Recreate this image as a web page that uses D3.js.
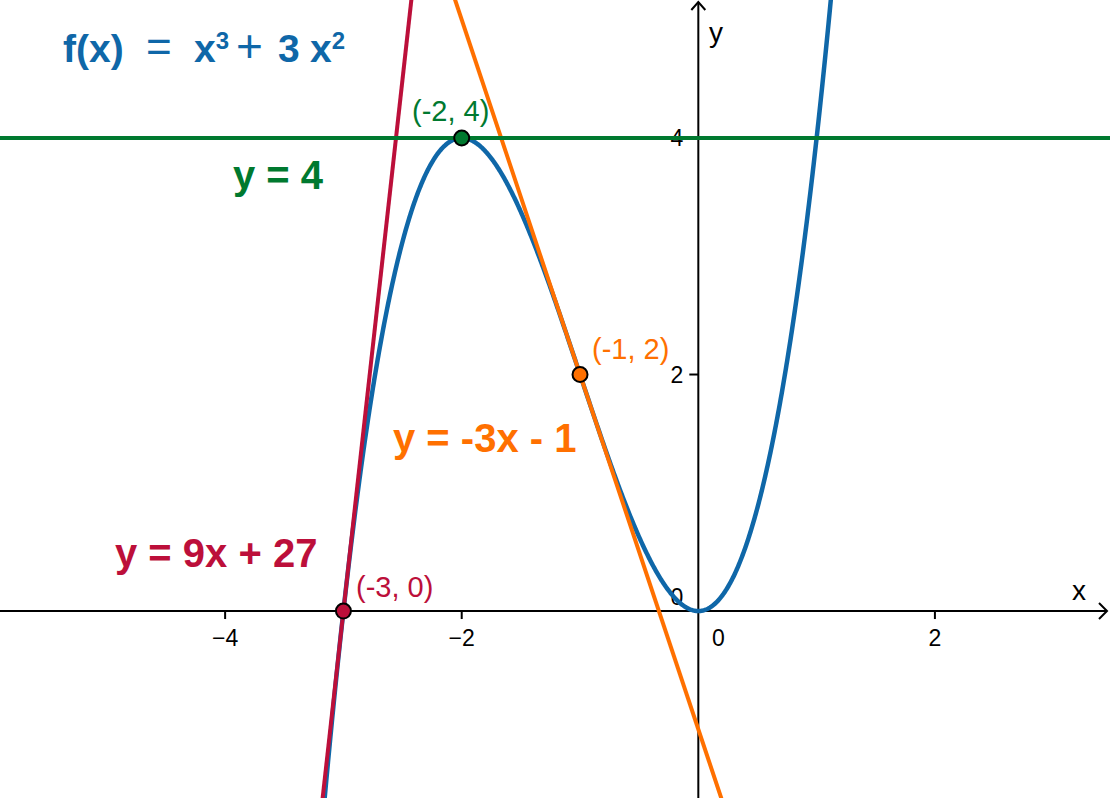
<!DOCTYPE html>
<html><head><meta charset="utf-8">
<script src="https://cdn.jsdelivr.net/npm/d3@7/dist/d3.min.js"></script>
<style>html,body{margin:0;padding:0;background:#fff;}svg{display:block;font-family:"Liberation Sans",Arial,sans-serif;}</style>
</head><body>
<script>
// ---- data ----
const xDomain = [-5.903, 3.480];
const yDomain = [-1.581, 5.167];
const xTicks = [-4, -2, 0, 2];
const yTicks = [0, 2, 4];
const cubicCoefs = [1, 3, 0, 0];            // f(x) = x^3 + 3x^2 + 0x + 0
const curveRange = [-3.4, 1.25];
const lineNames = ["y = 9x + 27", "y = -3x - 1", "y = 4"];
const lineSlopes = [9, -3, 0];
const lineIntercepts = [27, -1, 4];
const pointX = [-3, -1, -2];
const pointY = [0, 2, 4];
const pointLabels = ["(-3, 0)", "(-1, 2)", "(-2, 4)"];

// ---- styles ----
const W = 1110, H = 798;
const colors = ["#bc0f3a", "#ff7000", "#00792f"];
const blue = "#0f67a8";

const svg = d3.select("body").append("svg").attr("width", W).attr("height", H);
const x = d3.scaleLinear().domain(xDomain).range([0, W]);
const y = d3.scaleLinear().domain(yDomain).range([H, 0]);

const x0 = x(0), y0 = y(0);

// axes
const ax = svg.append("g").attr("stroke", "#000").attr("fill", "none").attr("stroke-width", 2);
ax.append("line").attr("x1", 0).attr("x2", W - 3).attr("y1", y0).attr("y2", y0);
ax.append("path").attr("d", `M${W-11},${y0-8} L${W-3},${y0} L${W-11},${y0+8}`);
ax.append("line").attr("x1", x0).attr("x2", x0).attr("y1", H).attr("y2", 2);
ax.append("path").attr("d", `M${x0-7},${10} L${x0},${2} L${x0+7},${10}`);

xTicks.filter(d => d !== 0).forEach(d => {
  ax.append("line").attr("x1", x(d)).attr("x2", x(d)).attr("y1", y0).attr("y2", y0 + 8);
});
yTicks.filter(d => d !== 0).forEach(d => {
  ax.append("line").attr("x1", x0 - 9).attr("x2", x0).attr("y1", y(d)).attr("y2", y(d));
});
const fmt = d => (d < 0 ? "\u2212" + Math.abs(d) : String(d));
svg.append("g").selectAll("text").data(xTicks).join("text")
  .attr("x", d => d === 0 ? x0 + 20 : x(d))
  .attr("y", y0 + 35)
  .attr("text-anchor", "middle").attr("font-size", 23).attr("fill", "#000")
  .text(fmt);
svg.append("g").selectAll("text").data(yTicks).join("text")
  .attr("x", x0 - 15)
  .attr("y", d => d === 0 ? y0 - 6 : y(d) + 8)
  .attr("text-anchor", "end").attr("font-size", 23).attr("fill", "#000")
  .text(fmt);
svg.append("text").attr("x", 1072).attr("y", 600).attr("font-size", 28).text("x");
svg.append("text").attr("x", 709).attr("y", 42).attr("font-size", 28).text("y");

// curve
const f = t => cubicCoefs[0]*t*t*t + cubicCoefs[1]*t*t + cubicCoefs[2]*t + cubicCoefs[3];
const samples = d3.range(curveRange[0], curveRange[1] + 1e-9, 0.005);
svg.append("path")
  .datum(samples)
  .attr("fill", "none").attr("stroke", blue).attr("stroke-width", 4.5)
  .attr("d", d3.line().x(t => x(t)).y(t => y(f(t))));

// lines
lineSlopes.forEach((m, i) => {
  const b = lineIntercepts[i];
  svg.append("line")
    .attr("x1", x(xDomain[0])).attr("y1", y(m * xDomain[0] + b))
    .attr("x2", x(xDomain[1])).attr("y2", y(m * xDomain[1] + b))
    .attr("stroke", colors[i]).attr("stroke-width", 4);
});

// points
svg.append("g").selectAll("circle").data(pointX).join("circle")
  .attr("cx", d => x(d)).attr("cy", (d, i) => y(pointY[i]))
  .attr("r", 7.5).attr("fill", (d, i) => colors[i])
  .attr("stroke", "#000").attr("stroke-width", 2);

// point labels
const pLabelPos = [[356, 597], [592, 359], [412, 121]];
pointLabels.forEach((t, i) => {
  svg.append("text").attr("x", pLabelPos[i][0]).attr("y", pLabelPos[i][1])
    .attr("font-size", 29).attr("fill", colors[i]).text(t);
});

// line labels
const lLabelPos = [[115, 567], [393, 452], [233, 189]];
lineNames.forEach((t, i) => {
  svg.append("text").attr("x", lLabelPos[i][0]).attr("y", lLabelPos[i][1])
    .attr("font-size", 40).attr("font-weight", "bold")
    .attr("fill", colors[i]).style("white-space", "pre")
    .text(t);
});

// function label
const fl = svg.append("text").attr("x", 63).attr("y", 62)
  .attr("font-size", 39).attr("font-weight", "bold").attr("fill", blue);
fl.append("tspan").text("f(x)");
fl.append("tspan").attr("x", 146).attr("font-weight", "normal").attr("font-size", 44).text("=");
fl.append("tspan").attr("x", 194).text("x");
fl.append("tspan").attr("dy", -13).attr("font-size", 24).text("3");
fl.append("tspan").attr("x", 236).attr("dy", 13).attr("font-weight", "normal").attr("font-size", 46).text("+");
fl.append("tspan").attr("x", 278).text("3");
fl.append("tspan").attr("x", 310).text("x");
fl.append("tspan").attr("dy", -13).attr("font-size", 24).text("2");
</script>
</body></html>
